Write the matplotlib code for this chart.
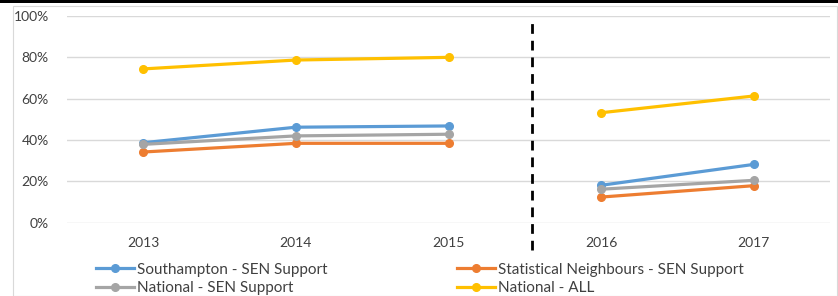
import numpy as np
import matplotlib
matplotlib.use("Agg")
import matplotlib.pyplot as plt
from matplotlib.patches import Rectangle

years = ["2013", "2014", "2015", "2016", "2017"]
southampton = [38.7, 46.2, 46.8, 18.1, 28.2]
stat_neighbours = [34.2, 38.4, 38.4, 12.4, 17.9]
national_sen = [37.9, 42.0, 42.8, 16.2, 20.5]
national_all = [74.4, 78.7, 80.0, 53.2, 61.3]

series = [
    ("Southampton - SEN Support", southampton, "#5B9BD5"),
    ("Statistical Neighbours - SEN Support", stat_neighbours, "#ED7D31"),
    ("National - SEN Support", national_sen, "#A5A5A5"),
    ("National - ALL", national_all, "#FFC000"),
]

plt.rcParams["font.family"] = ["Lato", "DejaVu Sans"]

fig = plt.figure(figsize=(8.38, 2.96), dpi=100)
# chart frame and top bar
fig.patches.append(Rectangle((13 / 838, 0), 824 / 838, 290 / 296, transform=fig.transFigure,
                             fill=False, edgecolor="#D9D9D9", linewidth=0.8))
fig.patches.append(Rectangle((0, 293 / 296), 1, 3 / 296, transform=fig.transFigure,
                             facecolor="black", edgecolor="none"))

ax = fig.add_axes([67 / 838, 1 - 222.7 / 296, 763 / 838, 206.7 / 296])
x = np.arange(len(years))

handles = {}
for name, vals, col in series:
    v = np.array(vals) / 100
    ln, = ax.plot(x[:3], v[:3], color=col, lw=2.3, marker="o", ms=5.5, label=name)
    ax.plot(x[3:], v[3:], color=col, lw=2.3, marker="o", ms=5.5)
    handles[name] = ln

ax.axvline(2.55, ymin=-0.13, ymax=0.98, color="black", lw=2, ls=(0, (3.5, 2.5)), clip_on=False)

ax.set_xlim(-0.5, 4.5)
ax.set_ylim(0, 1)
ax.set_yticks(np.arange(0, 1.01, 0.2))
ax.set_yticklabels([f"{int(t * 100)}%" for t in np.arange(0, 1.01, 0.2)])
ax.set_xticks(x)
ax.set_xticklabels(years)
ax.tick_params(length=0, labelsize=10, colors="#404040")
ax.tick_params(axis="x", pad=10)
ax.tick_params(axis="y", pad=13)
ax.grid(axis="y", color="#D9D9D9", lw=1)
ax.set_axisbelow(True)
for s in ax.spines.values():
    s.set_visible(False)

order = ["Southampton - SEN Support", "National - SEN Support",
         "Statistical Neighbours - SEN Support", "National - ALL"]
fig.legend([handles[n] for n in order], order, ncol=2, loc="upper left",
           bbox_to_anchor=(88 / 838, 1 - 255 / 296), frameon=False, fontsize=11,
           handlelength=2.5, handletextpad=0.2, columnspacing=8.5,
           labelspacing=0.3, borderpad=0, labelcolor="#404040")

fig.savefig("out.png", dpi=100)
